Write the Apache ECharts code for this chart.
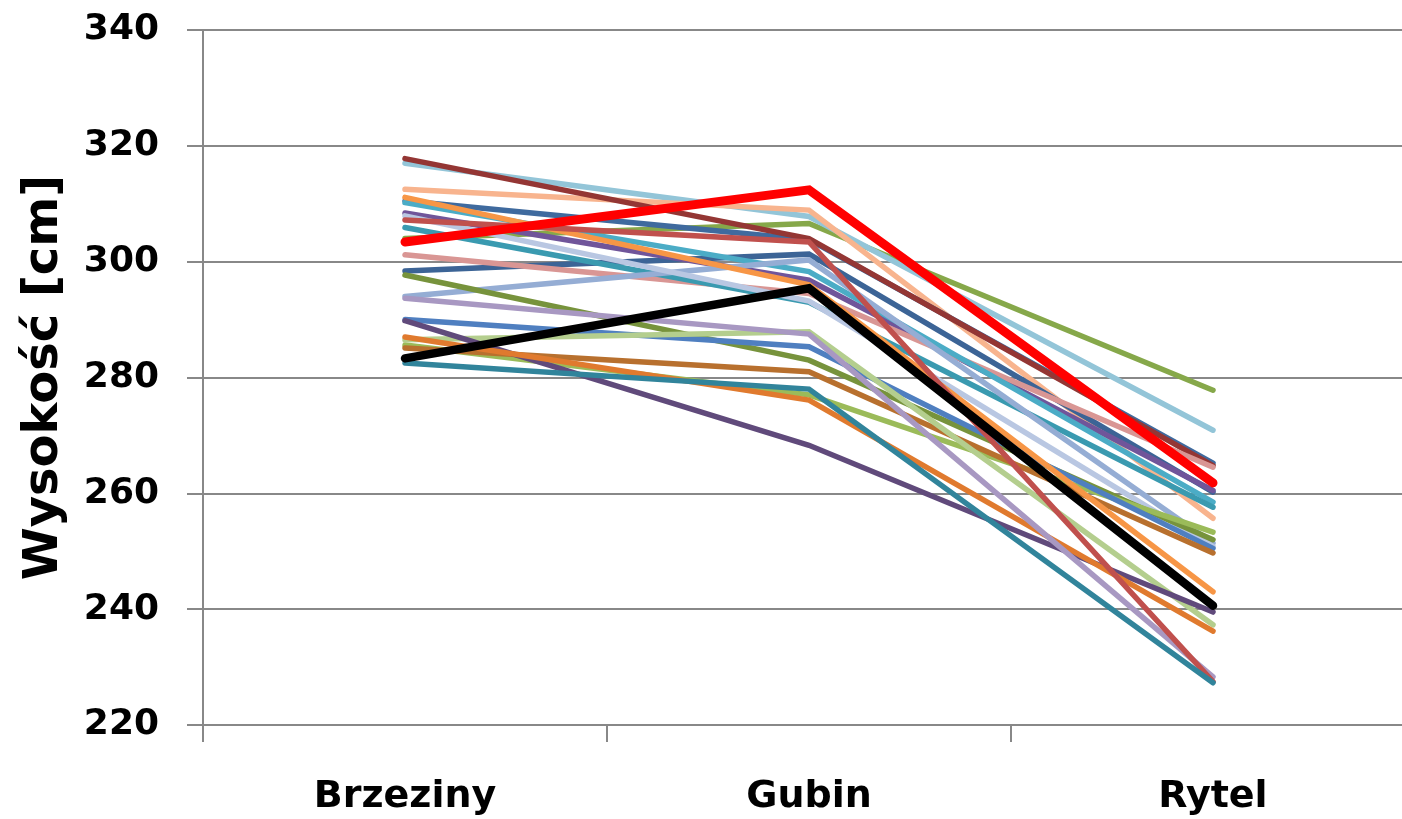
<!DOCTYPE html>
<html><head><meta charset="utf-8">
<script src="https://cdn.jsdelivr.net/npm/echarts@6/dist/echarts.min.js"></script>
<style>html,body{margin:0;padding:0;background:#fff}#c{width:1402px;height:819px}</style>
</head><body><div id="c"></div>
<script>
const categories = ['Brzeziny', 'Gubin', 'Rytel'];
const yTicks = [220, 240, 260, 280, 300, 320, 340];
const yAxisTitle = 'Wysokość [cm]';

const s01 = [317.8, 304.0, 264.8];
const s02 = [317.0, 307.8, 270.9];
const s03 = [312.5, 308.9, 255.7];
const s04 = [311.1, 296.0, 243.0];
const s05 = [310.5, 303.8, 265.2];
const s06 = [310.2, 298.3, 258.5];
const s07 = [308.4, 296.8, 260.5];
const s08 = [307.9, 293.2, 250.8];
const s09 = [307.2, 303.4, 227.5];
const s10 = [305.9, 293.0, 257.6];
const s11 = [304.0, 306.6, 277.8];
const s12 = [301.2, 294.5, 264.5];
const s13 = [298.4, 301.3, 260.2];
const s14 = [297.7, 283.0, 252.0];
const s15 = [294.0, 300.3, 251.4];
const s16 = [293.7, 287.5, 228.3];
const s17 = [290.0, 285.3, 250.5];
const s18 = [289.8, 268.3, 239.5];
const s19 = [287.0, 276.1, 236.2];
const s20 = [286.5, 287.9, 237.3];
const s21 = [285.6, 277.0, 253.3];
const s22 = [285.1, 281.0, 249.7];
const s23 = [282.5, 278.0, 227.3];
const sRed = [303.4, 312.4, 261.8];
const sBlack = [283.3, 295.4, 240.6];

const seriesList = [
  {d: s11, c: '#86A84A', w: 5.5},
  {d: s02, c: '#93C5D8', w: 5.5},
  {d: s03, c: '#F8B48E', w: 5.5},
  {d: s13, c: '#3C6496', w: 5.5},
  {d: s05, c: '#3F6A9E', w: 5.5},
  {d: s01, c: '#943634', w: 5.5},
  {d: s07, c: '#70559A', w: 5.5},
  {d: s12, c: '#D99694', w: 5.5},
  {d: s06, c: '#4BACC6', w: 5.5},
  {d: s10, c: '#3A9AB0', w: 5.5},
  {d: s15, c: '#95ADD4', w: 5.5},
  {d: s08, c: '#B9C7E2', w: 5.5},
  {d: s14, c: '#77933C', w: 5.5},
  {d: s21, c: '#9BBB59', w: 5.5},
  {d: s17, c: '#4F7FC0', w: 5.5},
  {d: s22, c: '#B8702E', w: 5.5},
  {d: s04, c: '#F79646', w: 5.5},
  {d: s20, c: '#B4CE8E', w: 5.5},
  {d: s18, c: '#604A7B', w: 5.5},
  {d: s19, c: '#E07A2E', w: 5.5},
  {d: s16, c: '#A898C2', w: 5.5},
  {d: s09, c: '#C0504D', w: 5.5},
  {d: s23, c: '#31849B', w: 5.5},
  {d: sBlack, c: '#000000', w: 8.5},
  {d: sRed, c: '#FF0000', w: 9}
];

const font = '"DejaVu Sans", sans-serif';
const chart = echarts.init(document.getElementById('c'), null, {renderer: 'canvas'});
chart.setOption({
  animation: false,
  backgroundColor: '#ffffff',
  grid: {left: 203, top: 30, width: 1212, height: 695, containLabel: false, outerBoundsMode: 'none'},
  xAxis: {
    type: 'category',
    data: categories,
    boundaryGap: true,
    axisLine: {lineStyle: {color: '#888888', width: 2}},
    axisTick: {show: true, length: 17, lineStyle: {color: '#888888', width: 2}},
    axisLabel: {margin: 53, color: '#000', fontSize: 38, fontWeight: 'bold', fontFamily: font},
    splitLine: {show: false}
  },
  yAxis: {
    type: 'value',
    min: yTicks[0], max: yTicks[yTicks.length - 1], interval: 20,
    name: yAxisTitle,
    nameLocation: 'middle',
    nameGap: 134,
    nameRotate: 90,
    nameTextStyle: {color: '#000', fontSize: 48, fontWeight: 'bold', fontFamily: font},
    axisLine: {show: true, lineStyle: {color: '#888888', width: 2}},
    axisTick: {show: true, length: 16, lineStyle: {color: '#888888', width: 2}},
    axisLabel: {margin: 44, color: '#000', fontSize: 36, fontWeight: 'bold', fontFamily: font},
    splitLine: {show: true, lineStyle: {color: '#888888', width: 2}}
  },
  series: seriesList.map((s, i) => ({
    type: 'line',
    name: 'S' + (i + 1),
    data: s.d,
    symbol: 'none',
    clip: false,
    lineStyle: {color: s.c, width: s.w, cap: 'round', join: 'miter'},
    itemStyle: {color: s.c},
    z: 2 + i * 0.01
  }))
});
</script></body></html>
